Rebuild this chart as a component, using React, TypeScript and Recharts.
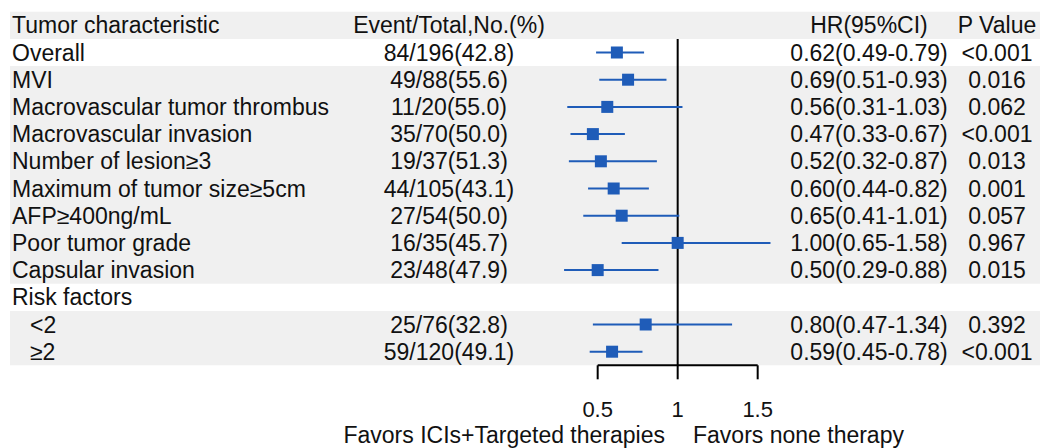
import React from "react";
import {
  ComposedChart,
  Scatter,
  ErrorBar,
  XAxis,
  YAxis,
  ReferenceArea,
  ReferenceLine,
  Label,
} from "recharts";

const headers = ["Tumor characteristic", "Event/Total,No.(%)", "HR(95%CI)", "P Value"];

const characteristics = [
  "Overall",
  "MVI",
  "Macrovascular tumor thrombus",
  "Macrovascular invasion",
  "Number of lesion≥3",
  "Maximum of tumor size≥5cm",
  "AFP≥400ng/mL",
  "Poor tumor grade",
  "Capsular invasion",
  "Risk factors",
  "<2",
  "≥2",
];

const events = [
  "84/196(42.8)",
  "49/88(55.6)",
  "11/20(55.0)",
  "35/70(50.0)",
  "19/37(51.3)",
  "44/105(43.1)",
  "27/54(50.0)",
  "16/35(45.7)",
  "23/48(47.9)",
  "",
  "25/76(32.8)",
  "59/120(49.1)",
];

const hazardRatios = [0.62, 0.69, 0.56, 0.47, 0.52, 0.6, 0.65, 1.0, 0.5, null, 0.8, 0.59];
const ciLower = [0.49, 0.51, 0.31, 0.33, 0.32, 0.44, 0.41, 0.65, 0.29, null, 0.47, 0.45];
const ciUpper = [0.79, 0.93, 1.03, 0.67, 0.87, 0.82, 1.01, 1.58, 0.88, null, 1.34, 0.78];

const pValues = [
  "<0.001",
  "0.016",
  "0.062",
  "<0.001",
  "0.013",
  "0.001",
  "0.057",
  "0.967",
  "0.015",
  "",
  "0.392",
  "<0.001",
];

const xTicks = [0.5, 1, 1.5];
const favorLabels = ["Favors ICIs+Targeted therapies", "Favors none therapy"];

const FONT = "'Liberation Sans', Arial, sans-serif";
const FONT_SIZE = 23;
const BLUE = "#1f5cb8";
const SHADE = "#f0f0f0";
const INK = "#111";
// text column anchors (px)
const COL = { label: 12, indent: 30, event: 449, hr: 869, p: 997 };
const WHITE_ROWS = [1, 10];

const groupIdx = characteristics.indexOf("Risk factors");
const fmt = (v: number) => v.toFixed(2);

const rows = [
  { row: 0, label: headers[0], event: headers[1], hrText: headers[2], p: headers[3], indent: false },
  ...characteristics.map((c, i) => {
    const hr = hazardRatios[i];
    return {
      row: i + 1,
      label: c,
      event: events[i],
      hrText: hr == null ? "" : `${fmt(hr)}(${fmt(ciLower[i] as number)}-${fmt(ciUpper[i] as number)})`,
      p: pValues[i],
      indent: i > groupIdx,
    };
  }),
];

const points = characteristics
  .map((_, i) => ({
    row: i + 1,
    hr: hazardRatios[i],
    err: hazardRatios[i] == null ? [0, 0] : [
      (hazardRatios[i] as number) - (ciLower[i] as number),
      (ciUpper[i] as number) - (hazardRatios[i] as number),
    ],
  }))
  .filter((d) => d.hr != null);

const lastRow = rows.length - 1;

// merge consecutive shaded rows into one band (avoids seams)
const bands: [number, number][] = [];
rows.forEach((r) => {
  if (WHITE_ROWS.includes(r.row)) return;
  const last = bands[bands.length - 1];
  if (last && last[1] === r.row - 1) last[1] = r.row;
  else bands.push([r.row, r.row]);
});

function RowText(props: any) {
  const { y, payload } = props;
  const r = rows[payload.value];
  if (!r) return null;
  return (
    <g fontFamily={FONT} fontSize={FONT_SIZE} fill={INK}>
      <text x={r.indent ? COL.indent : COL.label} y={y} dy="0.35em" textAnchor="start">
        {r.label}
      </text>
      <text x={COL.event} y={y} dy="0.35em" textAnchor="middle">
        {r.event}
      </text>
      <text x={COL.hr} y={y} dy="0.35em" textAnchor="middle">
        {r.hrText}
      </text>
      <text x={COL.p} y={y} dy="0.35em" textAnchor="middle">
        {r.p}
      </text>
    </g>
  );
}

function Square(props: any) {
  const { cx, cy } = props;
  return <rect x={cx - 6} y={cy - 6} width={12} height={12} fill={BLUE} />;
}

function FavorText() {
  return (
    <g fontFamily={FONT} fontSize={FONT_SIZE} fill={INK}>
      <text x={665} y={443} textAnchor="end">
        {favorLabels[0]}
      </text>
      <text x={693} y={443} textAnchor="start">
        {favorLabels[1]}
      </text>
    </g>
  );
}

export default function App() {
  return (
    <div style={{ width: 1041, height: 448, background: "#fff" }}>
      <style>{"body{margin:0}"}</style>
      <ComposedChart
        width={1041}
        height={448}
        data={points}
        margin={{ top: 11.7, right: 1, bottom: 0, left: 9 }}
      >
        {bands.map(([a, b]) => (
          <ReferenceArea
            key={a}
            y1={a - 0.5}
            y2={b + 0.5}
            fill={SHADE}
            fillOpacity={1}
            stroke="none"
            ifOverflow="visible"
          />
        ))}
        <XAxis
          type="number"
          dataKey="hr"
          domain={[-3.173, 3.2645]}
          allowDataOverflow
          ticks={xTicks}
          interval={0}
          height={82.7}
          axisLine={false}
          tickLine={{ stroke: "#000", strokeWidth: 2 }}
          tickSize={14}
          tickMargin={22.5}
          tick={{ fill: INK, fontSize: 22, fontFamily: FONT }}
        >
          <Label content={<FavorText />} />
        </XAxis>
        <YAxis
          type="number"
          dataKey="row"
          domain={[-0.5, lastRow + 0.5]}
          allowDataOverflow
          reversed
          width={1}
          ticks={rows.map((r) => r.row)}
          interval={0}
          axisLine={false}
          tickLine={false}
          tick={<RowText />}
        />
        <ReferenceLine
          segment={[
            { x: 1, y: 0.5 },
            { x: 1, y: lastRow + 0.5 },
          ]}
          stroke="#000"
          strokeWidth={2}
        />
        <ReferenceLine
          segment={[
            { x: 0.5, y: lastRow + 0.5 },
            { x: 1.5, y: lastRow + 0.5 },
          ]}
          stroke="#000"
          strokeWidth={2}
        />
        <Scatter dataKey="hr" fill={BLUE} shape={<Square />} isAnimationActive={false}>
          <ErrorBar
            dataKey="err"
            direction="x"
            width={0}
            stroke={BLUE}
            strokeWidth={2}
            isAnimationActive={false}
          />
        </Scatter>
      </ComposedChart>
    </div>
  );
}
